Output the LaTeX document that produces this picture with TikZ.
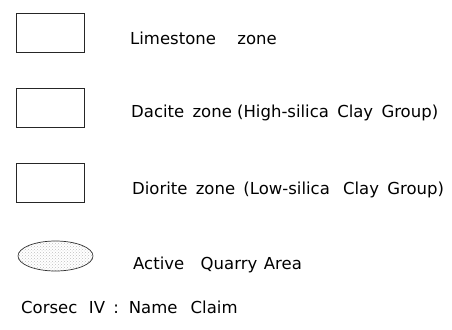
\documentclass[tikz,border=0pt]{standalone}
\usepackage{fontspec}
\setmainfont{DejaVu Sans}
\usetikzlibrary{patterns,shapes.geometric}
\begin{document}
\begin{tikzpicture}[x=1pt,y=-1pt,
  legbox/.style={draw=black!85,line width=0.8pt,minimum width=68pt,minimum height=39pt,inner sep=0pt},
  legtext/.style={anchor=west,inner sep=0pt,font=\fontsize{16.5}{18}\selectfont},
  quarry/.style={draw=black!80,line width=0.7pt,ellipse,minimum width=75pt,minimum height=30pt,inner sep=0pt,pattern=crosshatch dots,pattern color=black!25}]
\useasboundingbox (0,0) rectangle (452,329);
\node[legbox] (b1) at (50,32.5) {};
\node[legbox] (b2) at (50,107.5) {};
\node[legbox] (b3) at (50,182.5) {};
\node[quarry] (q) at (55.5,256) {};
\node[legtext] (t1) at (130,38) {Limestone\hspace{1.3em}zone};
\node[legtext] (t2) at (131,113) {Dacite\hspace{0.5em}zone (High-silica\hspace{0.5em}Clay\hspace{0.5em}Group)};
\node[legtext] (t3) at (132,190) {Diorite\hspace{0.5em}zone\hspace{0.5em}(Low-silica\hspace{0.8em}Clay\hspace{0.5em}Group)};
\node[legtext] (t4) at (133,265) {Active\hspace{1em}Quarry\hspace{0.4em}Area};
\node[legtext] (t5) at (21,307) {Corsec\hspace{0.7em}IV\hspace{0.5em}:\hspace{0.6em}Name\hspace{0.8em}Claim};
\end{tikzpicture}
\end{document}
